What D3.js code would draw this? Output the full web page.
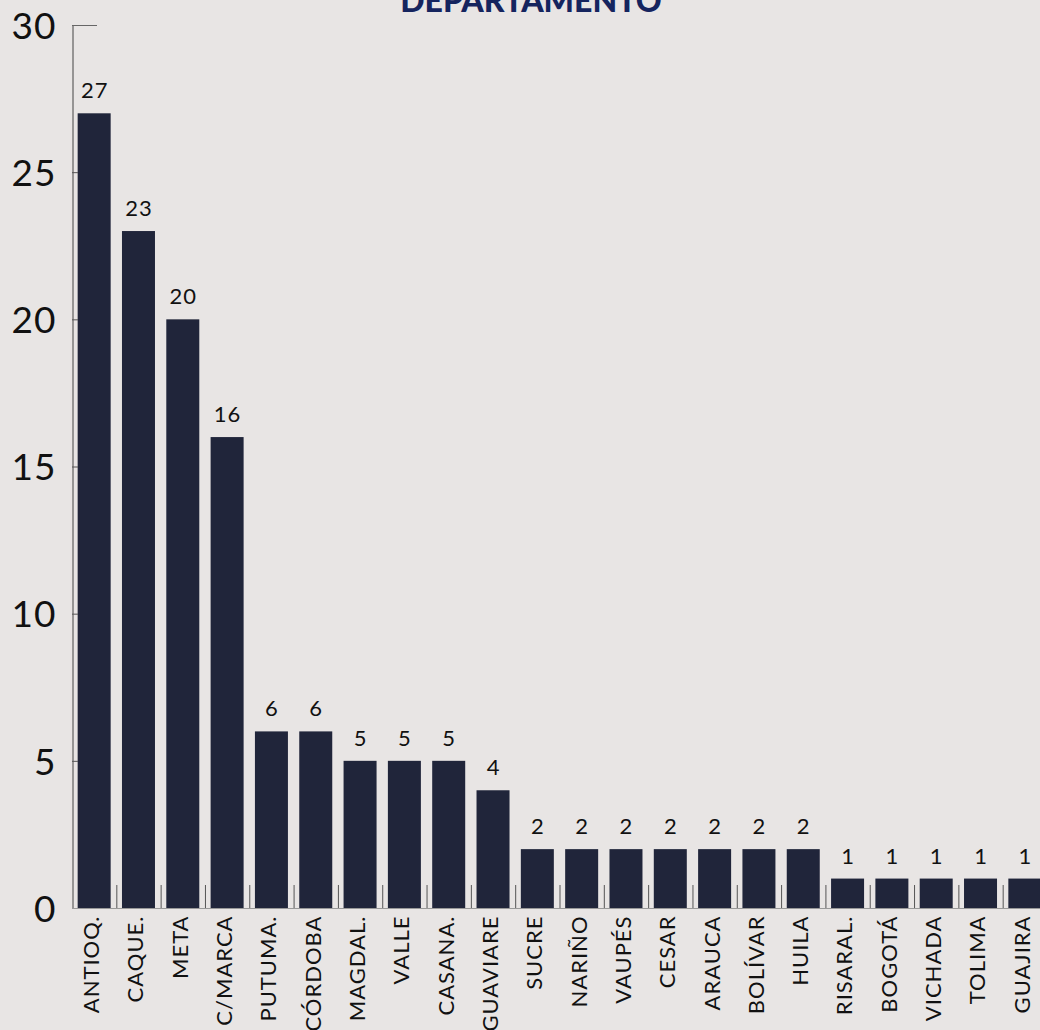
<!DOCTYPE html>
<html><head><meta charset="utf-8">
<script src="https://cdn.jsdelivr.net/npm/d3@7"></script>
<style>
html,body{margin:0;padding:0;background:#e8e5e4;}
svg{display:block;}
</style></head>
<body>
<script>
const categories = ["ANTIOQ.","CAQUE.","META","C/MARCA","PUTUMA.","CÓRDOBA","MAGDAL.","VALLE","CASANA.","GUAVIARE","SUCRE","NARIÑO","VAUPÉS","CESAR","ARAUCA","BOLÍVAR","HUILA","RISARAL.","BOGOTÁ","VICHADA","TOLIMA","GUAJIRA"];
const values = [27,23,20,16,6,6,5,5,5,4,2,2,2,2,2,2,2,1,1,1,1,1];
const yTicks = [0,5,10,15,20,25,30];
const title = "DEPARTAMENTO";

const W = 1040, H = 1030;
const font = "Lato, 'Open Sans', sans-serif";
const svg = d3.select("body").append("svg").attr("width", W).attr("height", H)
  .style("background", "#e8e5e4");

const x = d3.scaleBand().domain(categories).range([72, 1047]).padding(0);
const y = d3.scaleLinear().domain([0, 30]).range([908, 25]);
const barW = 33;

// title
svg.append("text").attr("x", 531).attr("y", 12).attr("text-anchor", "middle")
  .attr("font-family", font).attr("font-weight", 900).attr("font-size", 32)
  .attr("fill", "#15245e").text(title);

// bars
svg.selectAll("rect.bar").data(values).join("rect").attr("class", "bar")
  .attr("x", (d, i) => x(categories[i]) + (x.bandwidth() - barW) / 2)
  .attr("width", barW)
  .attr("y", d => y(d))
  .attr("height", d => y(0) - y(d))
  .attr("fill", "#20253a");

// value labels
svg.selectAll("text.val").data(values).join("text").attr("class", "val")
  .attr("x", (d, i) => x(categories[i]) + x.bandwidth() / 2 + 0.5)
  .attr("y", d => y(d) - 15)
  .attr("text-anchor", "middle")
  .attr("font-family", font).attr("font-size", 22).attr("fill", "#111")
  .attr("letter-spacing", "1px")
  .text(d => d);

// category boundary ticks
svg.selectAll("line.bt").data(categories.slice(1)).join("line").attr("class", "bt")
  .attr("x1", d => x(d) + 0.5).attr("x2", d => x(d) + 0.5)
  .attr("y1", 885).attr("y2", 908)
  .attr("stroke", "#555").attr("stroke-width", 1);

// y axis
const yAxis = d3.axisLeft(y).tickValues(yTicks).tickSize(0).tickPadding(16);
const gy = svg.append("g").attr("transform", "translate(72.5,0)").call(yAxis);
gy.select(".domain").attr("stroke", "#444");
gy.selectAll("text").attr("font-family", font).attr("font-size", 37).attr("fill", "#111")
  .attr("letter-spacing", "1px")
  .attr("dy", "0.36em");
// inner small ticks
svg.selectAll("line.yt").data(yTicks.filter(t => t > 0 && t < 30)).join("line").attr("class", "yt")
  .attr("x1", 72).attr("x2", 78).attr("y1", d => y(d) + 0.5).attr("y2", d => y(d) + 0.5)
  .attr("stroke", "#555");
svg.append("line").attr("x1", 72).attr("x2", 97).attr("y1", y(30) + 0.5).attr("y2", y(30) + 0.5)
  .attr("stroke", "#666");

// x axis
const xAxis = d3.axisBottom(x).tickSize(0).tickPadding(0);
const gx = svg.append("g").attr("transform", "translate(0,908.5)").call(xAxis);
gx.select(".domain").attr("stroke", "#999").attr("d", "M72,0H1040");
gx.selectAll("text")
  .attr("font-family", font).attr("font-size", 22).attr("fill", "#111")
  .attr("letter-spacing", "1px")
  .attr("transform", "rotate(-90)")
  .attr("text-anchor", "end")
  .attr("x", -7).attr("y", -3).attr("dy", "0.36em");
</script>
</body></html>
